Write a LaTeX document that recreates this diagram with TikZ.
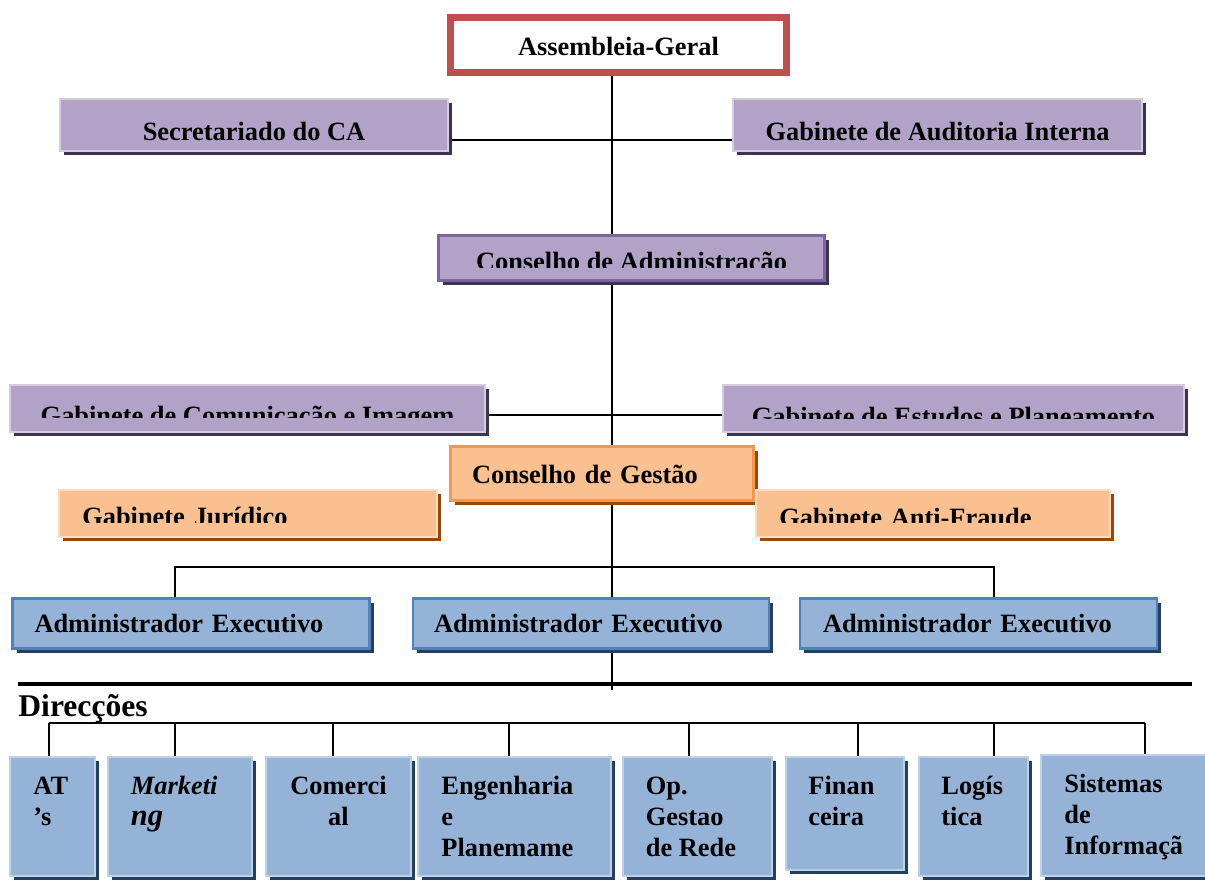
\documentclass[tikz,border=0pt]{standalone}
\usepackage{fontspec}
\setmainfont{Liberation Serif}
\usetikzlibrary{shadows,backgrounds}
\definecolor{purpfill}{HTML}{B2A2C7}
\definecolor{purpshadow}{HTML}{3F3151}
\definecolor{purpedge}{HTML}{8064A2}
\definecolor{orfill}{HTML}{FAC090}
\definecolor{orshadow}{HTML}{984807}
\definecolor{oredge}{HTML}{F79646}
\definecolor{blfill}{HTML}{95B3D7}
\definecolor{bledge}{HTML}{4F81BD}
\definecolor{blshadow}{HTML}{243F60}
\definecolor{agred}{HTML}{C0504D}
\newcommand{\lblfont}{\bfseries\fontsize{13.2}{15.5}\selectfont}
\newcommand{\topstrut}{\rule{0pt}{10pt}}
\begin{document}
\begin{tikzpicture}[x=0.5pt,y=-0.5pt,
  bx/.style={rectangle, inner sep=0pt, outer sep=0pt, anchor=north west, font=\lblfont},
  shad/.style={drop shadow={shadow xshift=2pt, shadow yshift=-2pt, fill=#1, opacity=1}},
  purp/.style={bx, fill=purpfill, draw=purpfill!55!white, line width=0.6pt, shad=purpshadow},
  purpB/.style={bx, fill=purpfill, draw=purpedge, line width=1.5pt, shad=purpshadow},
  orng/.style={bx, fill=orfill, draw=orfill!55!white, line width=0.6pt, shad=orshadow},
  orngB/.style={bx, fill=orfill, draw=oredge, line width=1.5pt, shad=orshadow},
  blueB/.style={bx, fill=blfill, draw=bledge, line width=1.25pt, shad=blshadow},
  blue/.style={bx, fill=blfill, draw=blfill!60!white, line width=0.6pt, shad=blshadow},
  conn/.style={line width=1pt, draw=black},
  btxt/.style={inner sep=0pt, anchor=north west, align=left, font=\lblfont},
]
\useasboundingbox (0,0) rectangle (1205,879);
\clip (0,0) rectangle (1205,879);

% ---------- top ----------
\node[bx, fill=white, draw=agred, line width=3.5pt, minimum width=168pt, minimum height=27.5pt,
      text height=18.75pt, text depth=8.75pt] (ag) at (450.5,17.5) {Assembleia-Geral};
\node[purp, minimum width=194pt, minimum height=26pt, text height=20.5pt, text depth=5.5pt]
      (sec) at (60,99) {Secretariado do CA};
\node[purp, minimum width=204.5pt, minimum height=26pt, text height=20.5pt, text depth=5.5pt]
      (gai) at (733,99) {Gabinete de Auditoria Interna};
\node[purpB, minimum width=193pt, minimum height=22.5pt, text height=17.35pt, text depth=5.15pt]
      (ca) at (438.5,235.5) {Conselho de Administração};
\fill[purpfill] (440.5,268.3) rectangle (822.5,278.5);

% ---------- gabinetes ----------
\node[purp, minimum width=237.5pt, minimum height=23.5pt, text height=19.5pt, text depth=4pt]
      (gci) at (10,385) {Gabinete de Comunicação e Imagem};
\fill[purpfill] (11,418.3) rectangle (484,431);
\node[purp, minimum width=230.5pt, minimum height=23.5pt, text height=20.4pt, text depth=3.1pt]
      (gep) at (723,385) {Gabinete de Estudos e Planeamento};
\fill[purpfill] (724,419) rectangle (1183,431);

\node[orngB, inner xsep=10.75pt, text width=130pt, align=left, minimum height=27pt,
      text height=18.25pt, text depth=8.75pt] (cg) at (450.5,446.5) {Conselho de Gestão};
\node[orng, inner xsep=11.65pt, text width=165.7pt, align=left, minimum height=23.5pt,
      text height=17.9pt, text depth=5.6pt] (gj) at (59,490) {Gabinete Jurídico};
\fill[orfill] (60,523.3) rectangle (436,536);
\node[orng, inner xsep=11.65pt, text width=153.7pt, align=left, minimum height=23.5pt,
      text height=18.4pt, text depth=5.1pt] (gaf) at (756,490) {Gabinete Anti-Fraude};
\fill[orfill] (757,523.3) rectangle (1109,536);

% ---------- administradores ----------
\node[blueB, inner xsep=11pt, text width=156.5pt, align=left, minimum height=25pt,
      text height=16.75pt, text depth=8.25pt] (ae1) at (12.5,598.5) {Administrador Executivo};
\node[blueB, inner xsep=10.5pt, text width=157pt, align=left, minimum height=25pt,
      text height=16.75pt, text depth=8.25pt] (ae2) at (413,598.5) {Administrador Executivo};
\node[blueB, inner xsep=11.5pt, text width=155.5pt, align=left, minimum height=25pt,
      text height=16.75pt, text depth=8.25pt] (ae3) at (800,598.5) {Administrador Executivo};

\node[inner sep=0pt, anchor=base west, font=\bfseries\fontsize{15.8}{18}\selectfont] (dir) at (18,716) {Direcções};

% ---------- direcções ----------
\node[blue, minimum width=42.5pt, minimum height=59.5pt] (ats) at (10,757) {};
\node[blue, minimum width=72pt, minimum height=59.5pt] (mkt) at (108,757) {};
\node[blue, minimum width=72.5pt, minimum height=59.5pt] (com) at (266,757) {};
\node[blue, minimum width=96.5pt, minimum height=59.5pt] (eng) at (418,757) {};
\node[blue, minimum width=74.5pt, minimum height=59.5pt] (opg) at (623,757) {};
\node[blue, minimum width=59pt, minimum height=56.5pt] (fin) at (786,757) {};
\node[blue, minimum width=54.5pt, minimum height=59.5pt] (log) at (919,757) {};
\node[blue, minimum width=85pt, minimum height=60.5pt] (sis) at (1041,755) {};

\node[btxt] (atsT) at ([shift={(23,17)}]ats.north west) {\topstrut AT\\’s};
\node[btxt, font=\lblfont\itshape] (mktT) at ([shift={(22.5,17)}]mkt.north west)
      {\topstrut Marketi\\{\fontsize{15.3}{15.5}\selectfont ng}};
\node[btxt, anchor=north, align=center] (comT) at ([shift={(0,17)}]com.north) {\topstrut Comerci\\al};
\node[btxt] (engT) at ([shift={(23,17)}]eng.north west) {\topstrut Engenharia\\e\\Planemame};
\node[btxt] (opgT) at ([shift={(22.5,17)}]opg.north west) {\topstrut Op.\\Gestao\\de Rede};
\node[btxt] (finT) at ([shift={(22,17)}]fin.north west) {\topstrut Finan\\ceira};
\node[btxt] (logT) at ([shift={(22,17)}]log.north west) {\topstrut Logís\\tica};
\node[btxt] (sisT) at ([shift={(23,17)}]sis.north west) {\topstrut Sistemas\\de\\Informaçã};

% ---------- helper coordinates ----------
\coordinate (tx) at (612,0);
\coordinate (tbot) at (612,690);
\coordinate (aebus) at (0,567.3);
\coordinate (ae1C) at ([xshift=81pt]ae1.north west);
\coordinate (ae3C) at ([xshift=96.85pt]ae3.north west);
\coordinate (hl) at (18,684);
\coordinate (hr) at (1192,684);
\coordinate (dbus) at (0,722.5);
\coordinate (atsC) at ([xshift=19.7pt]ats.north west);
\coordinate (mktC) at ([xshift=33.25pt]mkt.north west);
\coordinate (comC) at ([xshift=33.65pt]com.north west);
\coordinate (engC) at ([xshift=45.45pt]eng.north west);
\coordinate (opgC) at ([xshift=32.85pt]opg.north west);
\coordinate (finC) at ([xshift=35.85pt]fin.north west);
\coordinate (logC) at ([xshift=37.5pt]log.north west);
\coordinate (sisC) at ([xshift=51.9pt]sis.north west);

% ---------- connectors ----------
\begin{scope}[on background layer]
\draw[conn] (ag.south -| tx) -- (ca.north -| tx);
\draw[conn] (ca.south -| tx) -- (cg.north -| tx);
\draw[conn] (cg.south -| tx) -- (tbot);
\draw[conn] ([yshift=-7.5pt]sec.east) -- ([yshift=-7.5pt]gai.west);
\draw[conn] ([yshift=-3.25pt]gci.east) -- ([yshift=-3.25pt]gep.west);
\draw[conn] (ae1C) -- (ae1C |- aebus) -- (ae3C |- aebus) -- (ae3C);
\draw[line width=1.75pt] (hl) -- (hr);
\draw[conn] (atsC |- dbus) -- (sisC |- dbus);
\foreach \c in {atsC,mktC,comC,engC,opgC,finC,logC,sisC}
  \draw[conn] (\c) -- (\c |- dbus);
\end{scope}
\end{tikzpicture}
\end{document}
